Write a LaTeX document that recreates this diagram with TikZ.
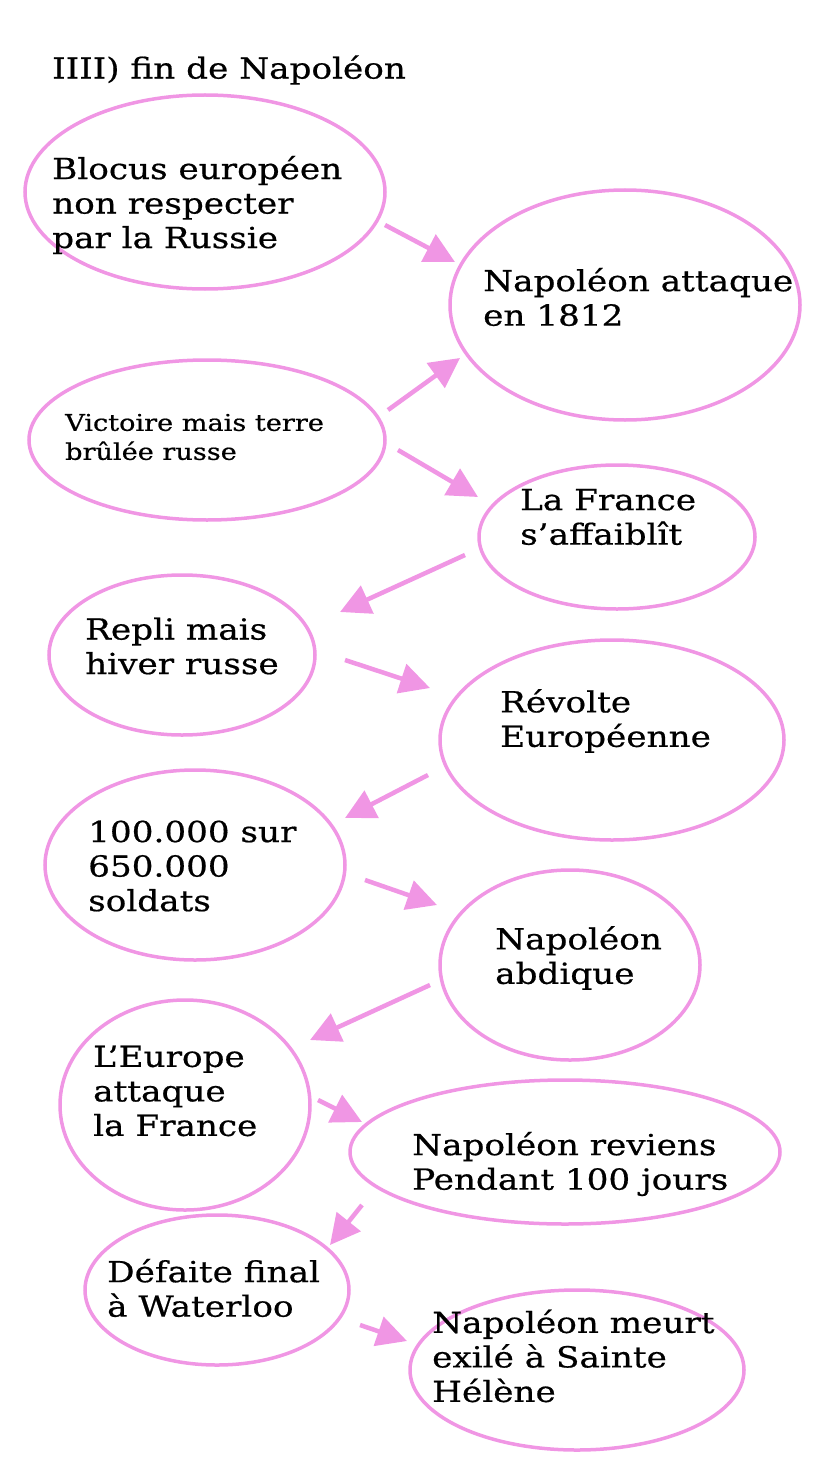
\documentclass[tikz,border=0pt]{standalone}
\usepackage{fontspec}
\setmainfont{DejaVu Serif}[FakeStretch=1.18,FakeBold=0.6]
\usetikzlibrary{shapes.geometric,arrows.meta}
\definecolor{pk}{RGB}{240,150,228}
\begin{document}
\begin{tikzpicture}[x=1pt,y=-1pt,
 loop/.style={draw=pk,line width=3.5pt,ellipse,inner sep=0pt},
 txt/.style={anchor=west,align=left,inner sep=0pt,font=\fontsize{29}{34.5}\selectfont},
 arr/.style={draw=pk,line width=4.5pt,-{Triangle[length=30pt,width=30pt]}}]
\useasboundingbox (0,0) rectangle (828,1471);
\node[anchor=west,inner sep=0pt,font=\fontsize{29}{34}\selectfont] (title) at (52,70) {IIII) fin de Napoléon};
\node[loop,minimum width=360pt,minimum height=194pt] (e1) at (205,192) {};
\node[loop,minimum width=350pt,minimum height=230pt] (e2) at (625,305) {};
\node[loop,minimum width=356pt,minimum height=160pt] (e3) at (207,440) {};
\node[loop,minimum width=276pt,minimum height=144pt] (e4) at (617,537) {};
\node[loop,minimum width=266pt,minimum height=160pt] (e5) at (182,655) {};
\node[loop,minimum width=344pt,minimum height=200pt] (e6) at (612,740) {};
\node[loop,minimum width=300pt,minimum height=190pt] (e7) at (195,865) {};
\node[loop,minimum width=260pt,minimum height=190pt] (e8) at (570,965) {};
\node[loop,minimum width=250pt,minimum height=210pt] (e9) at (185,1105) {};
\node[loop,minimum width=430pt,minimum height=144pt] (e10) at (565,1152) {};
\node[loop,minimum width=264pt,minimum height=150pt] (e11) at (217,1290) {};
\node[loop,minimum width=334pt,minimum height=160pt] (e12) at (577,1370) {};
\node[txt] (t1) at (52,205) {Blocus européen\\non respecter\\par la Russie};
\node[txt] (t2) at (483,297) {Napoléon attaque\\en 1812};
\node[txt,font=\fontsize{23}{29}\selectfont] (t3) at (65,437) {Victoire mais terre\\brûlée russe};
\node[txt] (t4) at (520,517) {La France\\s’affaiblît};
\node[txt] (t5) at (85,646) {Repli mais\\hiver russe};
\node[txt] (t6) at (500,721) {Révolte\\Européenne};
\node[txt] (t7) at (88,866) {100.000 sur\\650.000\\soldats};
\node[txt] (t8) at (495,958) {Napoléon\\abdique};
\node[txt] (t9) at (93,1091) {L’Europe\\attaque\\la France};
\node[txt] (t10) at (412,1164) {Napoléon reviens\\Pendant 100 jours};
\node[txt] (t11) at (107,1288) {Défaite final\\à Waterloo};
\node[txt] (t12) at (432,1356) {Napoléon meurt\\exilé à Sainte\\Hélène};
\foreach \n/\ax/\ay/\bx/\by in {1/385/225/455/262, 2/388/410/460/358, 3/398/450/478/497, 4/465/555/340/612, 5/345/660/430/688, 6/428/775/345/818, 7/365/880/437/905, 8/430/985/310/1040, 9/318/1100/362/1122, 10/362/1205/330/1245, 11/360/1325/407/1341}{
 \coordinate (s\n) at (\ax,\ay); \coordinate (d\n) at (\bx,\by);
 \draw[arr] (s\n) -- (d\n);}
\end{tikzpicture}
\end{document}
